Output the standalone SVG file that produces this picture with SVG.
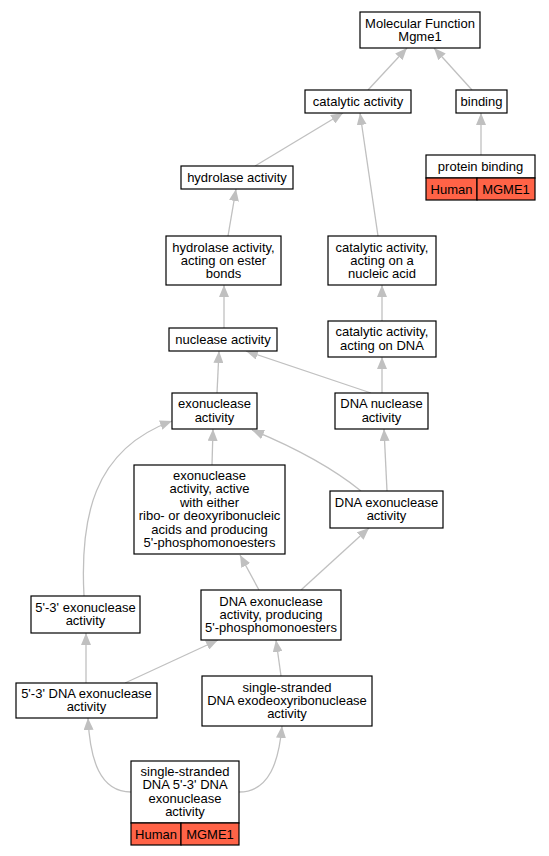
<svg xmlns="http://www.w3.org/2000/svg" width="549" height="856" viewBox="0 0 549 856">
<style>
text{font-family:"Liberation Sans",Arial,sans-serif;font-size:13px;text-anchor:middle;fill:#000}
.n{fill:#fff;stroke:#000;stroke-width:1.2}
.o{fill:#ff6347;stroke:#000;stroke-width:1.2}
.e{fill:none;stroke:#c0c0c0;stroke-width:1.3}
</style>
<defs>
<marker id="a" markerUnits="userSpaceOnUse" markerWidth="12" markerHeight="10" refX="12" refY="5" orient="auto"><path d="M0,0L12,5L0,10z" fill="#c0c0c0"/></marker>
</defs>
<rect width="549" height="856" fill="#fff"/>
<g id="edges" marker-end="url(#a)">
<path class="e" d="M368,90L407,48" marker-end="url(#a)"/>
<path class="e" d="M472,90L434,48" marker-end="url(#a)"/>
<path class="e" d="M481,155L481,113" marker-end="url(#a)"/>
<path class="e" d="M255,166L343,113" marker-end="url(#a)"/>
<path class="e" d="M378,236L360,113" marker-end="url(#a)"/>
<path class="e" d="M228,236L236,189" marker-end="url(#a)"/>
<path class="e" d="M382,321L382,285" marker-end="url(#a)"/>
<path class="e" d="M224,328L224,285" marker-end="url(#a)"/>
<path class="e" d="M371,393L246,351" marker-end="url(#a)"/>
<path class="e" d="M382,393L382,357" marker-end="url(#a)"/>
<path class="e" d="M217,393L219,351" marker-end="url(#a)"/>
<path class="e" d="M212,465L213,429" marker-end="url(#a)"/>
<path class="e" d="M361,491Q320,458 252,430" marker-end="url(#a)"/>
<path class="e" d="M387,491L384,429" marker-end="url(#a)"/>
<path class="e" d="M84,596C80,520 92,450 172,421" marker-end="url(#a)"/>
<path class="e" d="M259,590L240,555" marker-end="url(#a)"/>
<path class="e" d="M301,590L369,528" marker-end="url(#a)"/>
<path class="e" d="M86,683L86,633" marker-end="url(#a)"/>
<path class="e" d="M125,683L218,640" marker-end="url(#a)"/>
<path class="e" d="M281,676L276,640" marker-end="url(#a)"/>
<path class="e" d="M131,792C100,792 90,760 88,718" marker-end="url(#a)"/>
<path class="e" d="M239,792C270,792 279,760 282,726" marker-end="url(#a)"/>
</g>
<g id="mf"><rect class="n" x="360" y="12" width="120" height="36"/><text x="420" y="27.5">Molecular Function</text><text x="420" y="41">Mgme1</text></g>
<g id="catalytic"><rect class="n" x="305" y="90" width="106" height="23"/><text x="358" y="105.5">catalytic activity</text></g>
<g id="binding"><rect class="n" x="456" y="90" width="51" height="23"/><text x="481.5" y="105.5">binding</text></g>
<g id="protein_binding"><rect class="n" x="426" y="155" width="109" height="23"/><text x="480.5" y="170.5">protein binding</text><rect class="o" x="426" y="178" width="51" height="22"/><rect class="o" x="477" y="178" width="58" height="22"/><text x="451.5" y="193.5">Human</text><text x="506" y="193.5">MGME1</text></g>
<g id="hydrolase"><rect class="n" x="181" y="166" width="112" height="23"/><text x="237" y="181.5">hydrolase activity</text></g>
<g id="hydrolase_ester"><rect class="n" x="166" y="236" width="115" height="49"/><text x="223.5" y="251.5">hydrolase activity,</text><text x="223.5" y="265">acting on ester</text><text x="223.5" y="278.4">bonds</text></g>
<g id="cat_nucleic"><rect class="n" x="328" y="236" width="108" height="49"/><text x="382" y="251.5">catalytic activity,</text><text x="382" y="265">acting on a</text><text x="382" y="278.4">nucleic acid</text></g>
<g id="nuclease"><rect class="n" x="169" y="328" width="108" height="23"/><text x="223" y="343.5">nuclease activity</text></g>
<g id="cat_dna"><rect class="n" x="328" y="321" width="108" height="36"/><text x="382" y="336.3">catalytic activity,</text><text x="382" y="349.7">acting on DNA</text></g>
<g id="exonuclease"><rect class="n" x="172" y="393" width="85" height="36"/><text x="214.5" y="408.3">exonuclease</text><text x="214.5" y="421.7">activity</text></g>
<g id="dna_nuclease"><rect class="n" x="335" y="393" width="93" height="36"/><text x="381.5" y="408.3">DNA nuclease</text><text x="381.5" y="421.7">activity</text></g>
<g id="exo_ribo"><rect class="n" x="134" y="465" width="151" height="89"/><text x="209.5" y="480">exonuclease</text><text x="209.5" y="493.4">activity, active</text><text x="209.5" y="506.8">with either</text><text x="209.5" y="520.2">ribo- or deoxyribonucleic</text><text x="209.5" y="533.6">acids and producing</text><text x="209.5" y="547">5'-phosphomonoesters</text></g>
<g id="dna_exo"><rect class="n" x="330" y="491" width="113" height="37"/><text x="386.5" y="506.8">DNA exonuclease</text><text x="386.5" y="520.2">activity</text></g>
<g id="exo53"><rect class="n" x="31" y="596" width="109" height="37"/><text x="85.5" y="611.8">5'-3' exonuclease</text><text x="85.5" y="625.2">activity</text></g>
<g id="dna_exo_prod"><rect class="n" x="201" y="590" width="140" height="50"/><text x="271" y="605.6">DNA exonuclease</text><text x="271" y="619">activity, producing</text><text x="271" y="632.4">5'-phosphomonoesters</text></g>
<g id="dna_exo53"><rect class="n" x="16" y="683" width="141" height="35"/><text x="86.5" y="697.8">5'-3' DNA exonuclease</text><text x="86.5" y="711.2">activity</text></g>
<g id="ss_exodeoxy"><rect class="n" x="202" y="676" width="170" height="50"/><text x="287" y="691.6">single-stranded</text><text x="287" y="705">DNA exodeoxyribonuclease</text><text x="287" y="718.4">activity</text></g>
<g id="ss_53"><rect class="n" x="131" y="761" width="108" height="62"/><text x="185" y="776">single-stranded</text><text x="185" y="789.4">DNA 5'-3' DNA</text><text x="185" y="802.8">exonuclease</text><text x="185" y="816.2">activity</text><rect class="o" x="131" y="823" width="50" height="22"/><rect class="o" x="181" y="823" width="58" height="22"/><text x="156" y="838.5">Human</text><text x="210" y="838.5">MGME1</text></g>
</svg>
